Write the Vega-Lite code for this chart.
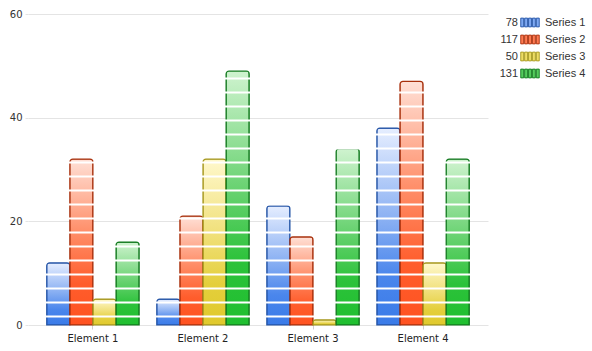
{
  "$schema": "https://vega.github.io/schema/vega-lite/v6.json",
  "padding": {"left": 9, "top": 9, "right": 0, "bottom": 0},
  "autosize": {"type": "pad"},
  "bounds": "flush",
  "spacing": 2,
  "background": "white",
  "config": {"view": {"stroke": null}},
  "datasets": {
    "bars": [
      {"element": "Element 1", "series": "Series 1", "value": 12},
      {"element": "Element 1", "series": "Series 2", "value": 32},
      {"element": "Element 1", "series": "Series 3", "value": 5},
      {"element": "Element 1", "series": "Series 4", "value": 16},
      {"element": "Element 2", "series": "Series 1", "value": 5},
      {"element": "Element 2", "series": "Series 2", "value": 21},
      {"element": "Element 2", "series": "Series 3", "value": 32},
      {"element": "Element 2", "series": "Series 4", "value": 49},
      {"element": "Element 3", "series": "Series 1", "value": 23},
      {"element": "Element 3", "series": "Series 2", "value": 17},
      {"element": "Element 3", "series": "Series 3", "value": 1},
      {"element": "Element 3", "series": "Series 4", "value": 34},
      {"element": "Element 4", "series": "Series 1", "value": 38},
      {"element": "Element 4", "series": "Series 2", "value": 47},
      {"element": "Element 4", "series": "Series 3", "value": 12},
      {"element": "Element 4", "series": "Series 4", "value": 32}
    ]
  },
  "hconcat": [
    {
      "width": 460,
      "height": 311,
      "data": {"name": "bars"},
      "layer": [
        {
          "mark": {"type": "bar", "cornerRadiusTopLeft": 3, "cornerRadiusTopRight": 3, "strokeWidth": 1.2},
          "encoding": {
            "x": {
              "field": "element", "type": "nominal", "title": null,
              "scale": {"paddingInner": 0.16, "paddingOuter": 0.17},
              "axis": {"labelAngle": 0, "domain": false, "tickColor": "#d0d0d0", "tickSize": 4, "labelPadding": 4,
                       "labelFont": "DejaVu Sans", "labelFontSize": 10, "labelColor": "#222"}
            },
            "xOffset": {"field": "series", "type": "nominal"},
            "y": {
              "field": "value", "type": "quantitative", "title": null,
              "scale": {"domain": [0, 60], "nice": false},
              "axis": {"values": [0, 20, 40, 60], "domain": false, "grid": true, "gridColor": "#e4e4e4",
                       "tickColor": "#e4e4e4", "tickSize": 3, "labelPadding": 3,
                       "labelFont": "DejaVu Sans", "labelFontSize": 10, "labelColor": "#333"}
            },
            "fill": {
              "condition": [
                {"test": "datum.series === 'Series 1'", "value": {"gradient": "linear", "x1": 0, "y1": 0, "x2": 0, "y2": 1,
                  "stops": [{"offset": 0, "color": "#e6eeff"}, {"offset": 0.45, "color": "#8db2f3"}, {"offset": 0.75, "color": "#4a86ec"}, {"offset": 1, "color": "#3a7be8"}]}},
                {"test": "datum.series === 'Series 2'", "value": {"gradient": "linear", "x1": 0, "y1": 0, "x2": 0, "y2": 1,
                  "stops": [{"offset": 0, "color": "#ffe0d6"}, {"offset": 0.45, "color": "#ff8c66"}, {"offset": 0.75, "color": "#ff5d2c"}, {"offset": 1, "color": "#ff5220"}]}},
                {"test": "datum.series === 'Series 3'", "value": {"gradient": "linear", "x1": 0, "y1": 0, "x2": 0, "y2": 1,
                  "stops": [{"offset": 0, "color": "#fff8cc"}, {"offset": 0.45, "color": "#f0e07a"}, {"offset": 0.75, "color": "#e4cf3c"}, {"offset": 1, "color": "#e0c92c"}]}}
              ],
              "value": {"gradient": "linear", "x1": 0, "y1": 0, "x2": 0, "y2": 1,
                "stops": [{"offset": 0, "color": "#cff3cf"}, {"offset": 0.45, "color": "#6cd374"}, {"offset": 0.75, "color": "#2cc23a"}, {"offset": 1, "color": "#1fbf2f"}]}
            },
            "stroke": {
              "condition": [
                {"test": "datum.series === 'Series 1'", "value": "#2454a6"},
                {"test": "datum.series === 'Series 2'", "value": "#a8300c"},
                {"test": "datum.series === 'Series 3'", "value": "#a6981e"}
              ],
              "value": "#137a1f"
            }
          }
        },
        {
          "mark": {"type": "bar", "opacity": 0},
          "encoding": {
            "x": {"field": "element", "type": "nominal", "title": null},
            "xOffset": {"field": "series", "type": "nominal"},
            "y": {
              "field": "value", "type": "quantitative", "title": null,
              "scale": {"domain": [0, 60], "nice": false},
              "axis": {"orient": "right", "labels": false, "ticks": false, "domain": false, "grid": true,
                       "gridColor": "#ffffff", "gridWidth": 2.2, "zindex": 1,
                       "values": [1.736, 4.437, 7.138, 9.839, 12.54, 15.241, 17.942, 20.643, 23.344, 26.045, 28.746, 31.447, 34.148, 36.849, 39.55, 42.251, 44.952, 47.653, 50.354, 53.055, 55.756, 58.457]}
            }
          }
        }
      ],
      "resolve": {"scale": {"y": "independent"}}
    },
    {
      "width": 100,
      "height": 68,
      "data": {"name": "bars"},
      "transform": [{"aggregate": [{"op": "sum", "field": "value", "as": "total"}], "groupby": ["series"]}],
      "encoding": {
        "y": {"field": "series", "type": "nominal", "axis": null, "scale": {"paddingInner": 0, "paddingOuter": 0}}
      },
      "layer": [
        {
          "mark": {"type": "text", "align": "right", "baseline": "middle", "x": 28, "font": "Liberation Sans", "fontSize": 11, "color": "#333"},
          "encoding": {"text": {"field": "total", "type": "quantitative"}}
        },
        {
          "mark": {"type": "point", "filled": true, "x": 40, "size": 380, "strokeWidth": 0.9, "opacity": 1,
                   "shape": "M-0.95,-0.45h0.3v0.9h-0.3z M-0.55,-0.45h0.3v0.9h-0.3z M-0.15,-0.45h0.3v0.9h-0.3z M0.25,-0.45h0.3v0.9h-0.3z M0.65,-0.45h0.3v0.9h-0.3z"},
          "encoding": {
            "fill": {"field": "series", "type": "nominal", "legend": null,
                     "scale": {"domain": ["Series 1", "Series 2", "Series 3", "Series 4"], "range": ["#7fa9f2", "#ff7a52", "#eedd66", "#55cc5e"]}},
            "stroke": {"field": "series", "type": "nominal", "legend": null,
                       "scale": {"domain": ["Series 1", "Series 2", "Series 3", "Series 4"], "range": ["#2454a6", "#a8300c", "#a6981e", "#137a1f"]}}
          }
        },
        {
          "mark": {"type": "text", "align": "left", "baseline": "middle", "x": 55, "font": "Liberation Sans", "fontSize": 11, "color": "#333"},
          "encoding": {"text": {"field": "series", "type": "nominal"}}
        }
      ]
    }
  ]
}
